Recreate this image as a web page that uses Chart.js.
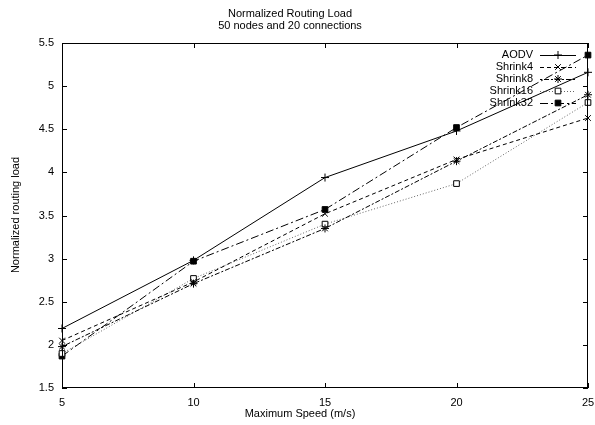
<!DOCTYPE html>
<html>
<head>
<meta charset="utf-8">
<script src="https://cdn.jsdelivr.net/npm/chart.js@4"></script>
<style>
  html, body { margin: 0; padding: 0; background: #fff; }
  #wrap { width: 595px; height: 425px; }
</style>
</head>
<body>
<div id="wrap"><canvas id="routingChart" width="595" height="425"></canvas></div>
<script>
// data
const speeds = [5, 10, 15, 20, 25];
const aodv = [2.19, 2.98, 3.94, 4.48, 5.16];
const shrink4 = [2.05, 2.73, 3.52, 4.15, 4.63];
const shrink8 = [1.98, 2.71, 3.35, 4.13, 4.90];
const shrink16 = [1.90, 2.77, 3.40, 3.87, 4.81];
const shrink32 = [1.87, 2.97, 3.57, 4.52, 5.36];
const seriesNames = ["AODV", "Shrink4", "Shrink8", "Shrink16", "Shrink32"];
const xTicks = [5, 10, 15, 20, 25];
const yTicks = [1.5, 2, 2.5, 3, 3.5, 4, 4.5, 5, 5.5];

const FONT = "'Liberation Sans', Arial, sans-serif";

function pts(vals) {
    return vals.map((v, i) => ({x: speeds[i], y: v}));
}

let styles = [
    {color: "#000", dash: [], point: "cross", fill: "#000", radius: 4},
    {color: "#000", dash: [4, 3], point: "crossRot", fill: "#000", radius: 4},
    {color: "#000", dash: [2, 2, 5, 2], point: "star", fill: "#000", radius: 4},
    {color: "#666", dash: [1, 2], point: "rect", fill: "#fff", radius: 4},
    {color: "#000", dash: [8, 3, 2, 3], point: "rect", fill: "#000", radius: 4}
];
let allValues = [aodv, shrink4, shrink8, shrink16, shrink32];

let datasets = allValues.map((vals, i) => ({
    label: seriesNames[i],
    data: pts(vals),
    borderColor: styles[i].color,
    borderWidth: 1,
    borderDash: styles[i].dash,
    pointStyle: styles[i].point,
    pointRadius: styles[i].radius,
    pointBackgroundColor: styles[i].fill,
    pointBorderColor: "#000",
    pointBorderWidth: 1,
    fill: false,
    tension: 0,
    clip: false
}));

// gnuplot-like frame, inward ticks, titles and legend
const frame = {
    id: "frame",
    afterDraw(chart) {
        const ctx = chart.ctx;
        const a = chart.chartArea;
        const xs = chart.scales.x, ys = chart.scales.y;
        ctx.save();
        ctx.strokeStyle = "#000";
        ctx.lineWidth = 1;
        ctx.setLineDash([]);
        ctx.strokeRect(a.left + 0.5, a.top + 0.5, a.right - a.left - 1, a.bottom - a.top - 1);
        ctx.beginPath();
        xTicks.forEach(t => {
            let px = Math.round(xs.getPixelForValue(t)) + 0.5;
            ctx.moveTo(px, a.bottom); ctx.lineTo(px, a.bottom - 5);
            ctx.moveTo(px, a.top); ctx.lineTo(px, a.top + 5);
        });
        yTicks.forEach(t => {
            let py = Math.round(ys.getPixelForValue(t)) + 0.5;
            ctx.moveTo(a.left, py); ctx.lineTo(a.left + 5, py);
            ctx.moveTo(a.right, py); ctx.lineTo(a.right - 5, py);
        });
        ctx.stroke();

        ctx.fillStyle = "#000";
        ctx.font = "11px " + FONT;
        ctx.textAlign = "center";
        ctx.textBaseline = "middle";
        ctx.fillText("Normalized Routing Load", 290, 14);
        ctx.fillText("50 nodes and 20 connections", 290, 26);
        ctx.fillText("Maximum Speed (m/s)", 300, 414);
        ctx.save();
        ctx.translate(16, 215);
        ctx.rotate(-Math.PI / 2);
        ctx.fillText("Normalized routing load", 0, 0);
        ctx.restore();

        // legend
        ctx.textAlign = "right";
        chart.data.datasets.forEach((ds, i) => {
            let y = 55 + i * 12;
            ctx.fillStyle = "#000";
            ctx.fillText(ds.label, 533, y);
            ctx.strokeStyle = ds.borderColor;
            ctx.setLineDash(ds.borderDash);
            ctx.beginPath();
            ctx.moveTo(540, y + 0.5);
            ctx.lineTo(576, y + 0.5);
            ctx.stroke();
            ctx.setLineDash([]);
            ctx.strokeStyle = "#000";
            ctx.fillStyle = ds.pointBackgroundColor;
            ctx.lineWidth = 1;
            Chart.helpers.drawPoint(ctx, {pointStyle: ds.pointStyle, radius: ds.pointRadius, rotation: 0, borderWidth: 1}, 558, y);
        });
        ctx.restore();
    }
};

new Chart(document.getElementById("routingChart"), {
    type: "line",
    data: {datasets: datasets},
    options: {
        responsive: false,
        animation: false,
        layout: {padding: {top: 43, right: 7, left: 0, bottom: 0}},
        plugins: {
            legend: {display: false},
            title: {display: false},
            tooltip: {enabled: false}
        },
        scales: {
            x: {
                type: "linear",
                min: 5,
                max: 25,
                afterFit: s => { s.height = 37; s.paddingLeft = 0; s.paddingRight = 0; },
                afterBuildTicks: s => { s.ticks = xTicks.map(v => ({value: v})); },
                grid: {drawOnChartArea: false, drawTicks: false},
                border: {display: false},
                ticks: {color: "#000", font: {family: FONT, size: 11}, padding: 8, callback: v => String(v)}
            },
            y: {
                type: "linear",
                min: 1.5,
                max: 5.5,
                afterFit: s => { s.width = 62; s.paddingTop = 0; s.paddingBottom = 0; },
                afterBuildTicks: s => { s.ticks = yTicks.map(v => ({value: v})); },
                grid: {drawOnChartArea: false, drawTicks: false},
                border: {display: false},
                ticks: {color: "#000", font: {family: FONT, size: 11}, padding: 8, callback: v => String(v)}
            }
        }
    },
    plugins: [frame]
});
</script>
</body>
</html>
